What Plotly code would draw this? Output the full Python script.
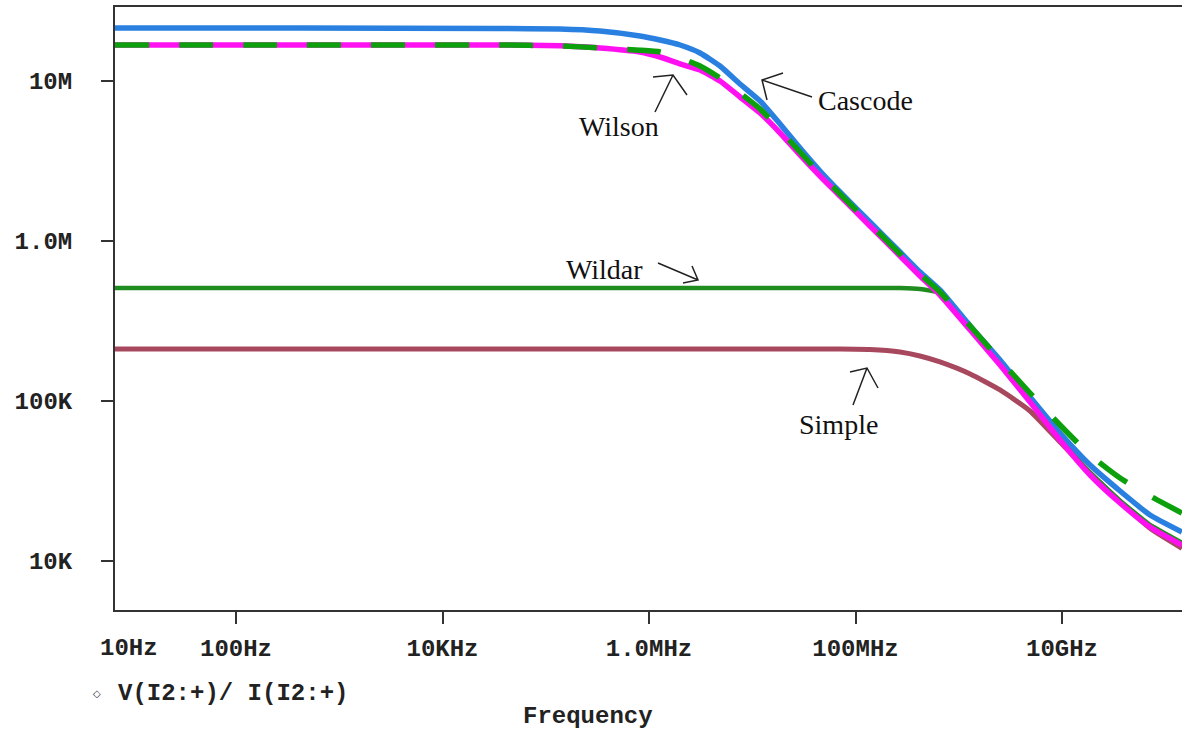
import plotly.graph_objects as go

# ---- data ----
freq_hz = [6.73, 417, 36.1e3, 137e3, 335e3, 818e3, 1.28e6, 2.0e6, 3.12e6, 4.87e6,
           7.61e6, 11.9e6, 18.6e6, 29.0e6, 45.3e6, 70.8e6, 138e6, 270e6, 421e6,
           658e6, 1.29e9, 2.51e9, 4.90e9, 9.56e9, 18.7e9, 36.5e9, 71.2e9, 145e9]

cascode = [21.34e6, 21.34e6, 21.18e6, 21.03e6, 20.43e6, 19.02e6, 17.96e6, 16.71e6,
           14.89e6, 12.35e6, 9.537e6, 7.469e6, 5.364e6, 3.798e6, 2.729e6, 2.017e6,
           1.310e6, 851e3, 638.6e3, 492.8e3, 293.7e3, 180.1e3, 105.8e3, 63.03e3,
           39.78e3, 27.37e3, 19.38e3, 15.18e3]

wilson = [16.71e6, 16.71e6, 16.71e6, 16.5e6, 16.0e6, 15.11e6, 14.06e6, 12.72e6,
          11.66e6, 9.956e6, 7.911e6, 6.284e6, 4.714e6, 3.435e6, 2.539e6, 1.905e6,
          1.237e6, 803.6e3, 602.8e3, 458.6e3, 277.3e3, 167.6e3, 98.42e3, 57.0e3,
          34.44e3, 23.03e3, 16.31e3, 12.59e3]

wilson_green = [16.71e6, 16.71e6, 16.71e6, 16.5e6, 16.0e6, 15.5e6, 15.11e6, 13.86e6,
                12.35e6, 10.39e6, 8.381e6, 6.657e6, 4.921e6, 3.586e6, 2.615e6, 1.960e6,
                1.273e6, 827.3e3, 620.3e3, 478.8e3, 293.7e3, 180.1e3, 112.0e3, 70.71e3,
                45.93e3, 32.99e3, 25.47e3, 19.94e3]

wildar = [507.2e3] * 18 + [500.0e3, 472.1e3, 282.0e3, 170.0e3, 100.0e3, 58.5e3,
                           35.5e3, 23.8e3, 16.8e3, 13.0e3]

simple = [210.9e3] * 16 + [209.4e3, 202.0e3, 190.7e3, 175.0e3, 147.2e3, 117.0e3,
                           86.47e3, 55.37e3, 35.5e3, 23.5e3, 16.0e3, 12.0e3]

x_tickvals = [100, 1e4, 1e6, 1e8, 1e10]
x_ticktext = ["100Hz", "10KHz", "1.0MHz", "100MHz", "10GHz"]
y_tickvals = [1e4, 1e5, 1e6, 1e7]
y_ticktext = ["10K", "100K", "1.0M", "10M"]

# ---- layout geometry ----
W, H = 1182, 731
L, R, T, B = 115, 1182, 7, 610


def px(x):
    return (x - L) / (R - L)


def py(y):
    return (B - y) / (B - T)


mono = dict(family="Liberation Mono", size=24, color="#222222", weight="bold")
serif = dict(family="Liberation Serif", size=28, color="#111111")

fig = go.Figure()

line_common = dict(mode="lines", hoverinfo="skip", showlegend=False)
fig.add_trace(go.Scatter(x=freq_hz, y=simple, name="Simple",
                         line=dict(color="#a8485e", width=5, shape="spline", smoothing=0.5),
                         **line_common))
fig.add_trace(go.Scatter(x=freq_hz, y=wildar, name="Wildar",
                         line=dict(color="#1e8c1e", width=4.5, shape="spline", smoothing=0.3),
                         **line_common))
fig.add_trace(go.Scatter(x=freq_hz, y=cascode, name="Cascode",
                         line=dict(color="#2a80e0", width=5.5, shape="spline", smoothing=0.5),
                         **line_common))
fig.add_trace(go.Scatter(x=freq_hz, y=wilson, name="Wilson",
                         line=dict(color="#ff10f0", width=5.5, shape="spline", smoothing=0.5),
                         **line_common))
fig.add_trace(go.Scatter(x=freq_hz, y=wilson_green, name="Wilson (green)",
                         line=dict(color="#0ca00c", width=5.5, dash="34px,30px",
                                   shape="spline", smoothing=0.5),
                         **line_common))

# ---- hand-drawn style open arrows ----
arrows = [
    # (tail, tip, arm1, arm2) in pixel coordinates
    ((812, 97), (762, 80), (783, 73), (767, 100)),    # Cascode
    ((655, 112), (673, 75), (653, 77), (687, 95)),    # Wilson
    ((658, 263), (698, 280), (683, 283), (692, 266)), # Wildar
    ((853, 405), (867, 368), (850, 372), (878, 388)), # Simple
]
shapes = []
for tail, tip, a1, a2 in arrows:
    path = (f"M{px(tail[0])},{py(tail[1])} L{px(tip[0])},{py(tip[1])} "
            f"M{px(a1[0])},{py(a1[1])} L{px(tip[0])},{py(tip[1])} L{px(a2[0])},{py(a2[1])}")
    shapes.append(dict(type="path", xref="paper", yref="paper", path=path,
                       line=dict(color="#222222", width=1.5)))

annotations = [
    dict(text="Cascode", x=px(865), y=py(101)),
    dict(text="Wilson", x=px(619), y=py(127)),
    dict(text="Wildar", x=px(604), y=py(269)),
    dict(text="Simple", x=px(838), y=py(424)),
]
for a in annotations:
    a.update(xref="paper", yref="paper", showarrow=False, font=serif,
             xanchor="center", yanchor="middle")

annotations += [
    dict(text="10Hz", x=px(129), y=py(648), xref="paper", yref="paper",
         showarrow=False, font=mono, xanchor="center", yanchor="middle"),
    dict(text="Frequency", x=px(588), y=py(716), xref="paper", yref="paper",
         showarrow=False, font=mono, xanchor="center", yanchor="middle"),
    dict(text="V(I2:+)/ I(I2:+)", x=px(116), y=py(693), xref="paper", yref="paper",
         showarrow=False, font=mono, xanchor="left", yanchor="middle"),
    dict(text="◇", x=px(97), y=py(693), xref="paper", yref="paper",
         showarrow=False, font=dict(family="DejaVu Sans", size=10, color="#333333"),
         xanchor="center", yanchor="middle"),
]

fig.update_layout(
    width=W, height=H,
    margin=dict(l=L, r=W - R, t=T, b=H - B, pad=0),
    paper_bgcolor="white", plot_bgcolor="white",
    shapes=shapes, annotations=annotations,
    showlegend=False,
)
fig.update_xaxes(
    type="log", range=[0.8281, 11.1622],
    tickvals=x_tickvals, ticktext=x_ticktext, tickfont=mono,
    ticks="outside", ticklen=12, tickwidth=2, tickcolor="#333333",
    showline=True, linewidth=2, linecolor="#333333", mirror=True,
    showgrid=False, zeroline=False, ticklabelstandoff=3,
)
fig.update_yaxes(
    type="log", range=[3.6939, 7.4603],
    tickvals=y_tickvals, ticktext=y_ticktext, tickfont=mono,
    ticks="outside", ticklen=12, tickwidth=2, tickcolor="#333333",
    showline=True, linewidth=2, linecolor="#333333",
    showgrid=False, zeroline=False, ticklabelstandoff=24,
)

fig.write_html("out.html")
